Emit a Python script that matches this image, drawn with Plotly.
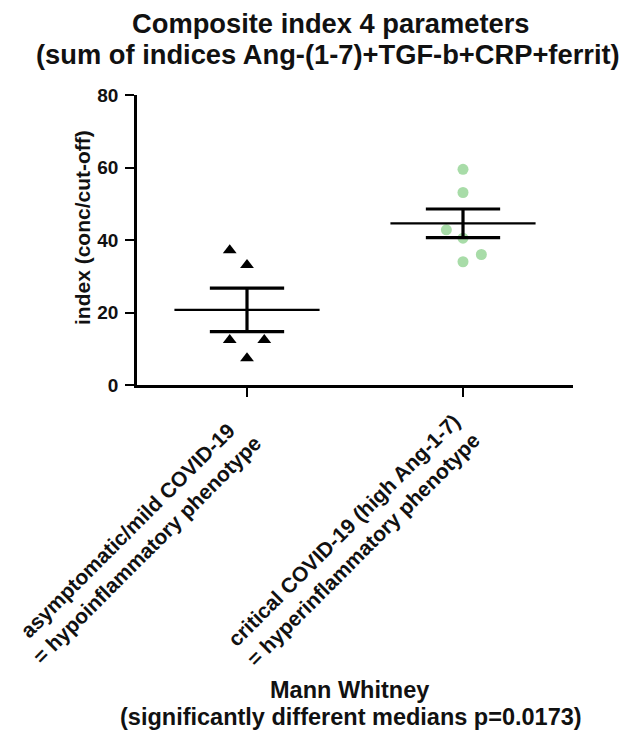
import plotly.graph_objects as go

# ---------------- data ----------------
categories = ["asymptomatic/mild COVID-19<br>= hypoinflammatory phenotype",
              "critical COVID-19 (high Ang-1-7)<br>= hyperinflammatory phenotype"]
group1_values = [37.2, 33.1, 12.4, 12.4, 7.4]
group1_jitter = [-0.08, 0.0, -0.08, 0.08, 0.0]
group2_values = [59.5, 53.1, 42.8, 40.5, 36.0, 34.0]
group2_jitter = [0.0, 0.0, -0.077, 0.0, 0.085, 0.0]
means = [20.7, 44.6]
sems = [6.0, 3.95]
y_ticks = [0, 20, 40, 60, 80]

title_lines = ["Composite index 4 parameters",
               "(sum of indices Ang-(1-7)+TGF-b+CRP+ferrit)"]
footer_lines = ["Mann Whitney",
                "(significantly different medians p=0.0173)"]
y_title = "index (conc/cut-off)"

# ---------------- geometry (page pixels; page body has an 8px margin) ----------------
OFF = 8
W, H = 630 - OFF, 736 - OFF
L, R, T, B = 137 - OFF, 573 - OFF, 95 - OFF, 385 - OFF
def px_x(p):
    return (p - OFF - L) / (R - L)
def px_y(p):
    return (B - (p - OFF)) / (B - T)

FONT = "Liberation Sans, Arial, sans-serif"
INK = "#111111"

fig = go.Figure()

fig.add_trace(go.Scatter(
    x=[0 + j for j in group1_jitter], y=group1_values, mode="markers",
    marker=dict(symbol="triangle-up", size=12, color="black", line=dict(width=0)),
    showlegend=False, hoverinfo="skip"))
fig.add_trace(go.Scatter(
    x=[1 + j for j in group2_jitter], y=group2_values, mode="markers",
    marker=dict(symbol="circle", size=11, color="#a8dca8", line=dict(width=0)),
    showlegend=False, hoverinfo="skip"))

mean_hw = 0.336
cap_hw = 0.172
mx, my, ex, ey = [], [], [], []
for i, (m, s) in enumerate(zip(means, sems)):
    mx += [i - mean_hw, i + mean_hw, None]
    my += [m, m, None]
    ex += [i - cap_hw, i + cap_hw, None, i - cap_hw, i + cap_hw, None, i, i, None]
    ey += [m + s, m + s, None, m - s, m - s, None, m - s, m + s, None]

fig.add_trace(go.Scatter(x=mx, y=my, mode="lines", line=dict(color="black", width=2.2),
                         showlegend=False, hoverinfo="skip"))
fig.add_trace(go.Scatter(x=ex, y=ey, mode="lines", line=dict(color="black", width=3.2),
                         showlegend=False, hoverinfo="skip"))

x_lo = -(247 - 137) / 216
x_hi = 1 + (573 - 463) / 216

fig.update_xaxes(range=[x_lo, x_hi], tickvals=[0, 1], ticktext=["", ""],
                 showline=True, linecolor="black", linewidth=2.5,
                 ticks="outside", ticklen=9, tickwidth=2, tickcolor="black",
                 showgrid=False, zeroline=False, fixedrange=True)
fig.update_yaxes(range=[0, 80], tickvals=y_ticks, ticktext=[str(v) for v in y_ticks],
                 showline=True, linecolor="black", linewidth=2.5,
                 ticks="outside", ticklen=9, tickwidth=2, tickcolor="black",
                 tickfont=dict(family=FONT, size=19, color=INK, weight="bold"),
                 ticklabelstandoff=3,
                 showgrid=False, zeroline=False, fixedrange=True)

ann = []
for txt, xc, yc, fs in [(title_lines[0], 330, 23.5, 27.3), (title_lines[1], 328, 54.5, 27.3),
                        (footer_lines[0], 349, 690, 23.5), (footer_lines[1], 351, 717, 23.5)]:
    ann.append(dict(text=txt, xref="paper", yref="paper", x=px_x(xc),
                    y=px_y(yc), xanchor="center", yanchor="middle", showarrow=False,
                    borderpad=0,
                    font=dict(family=FONT, size=fs, color=INK, weight="bold")))
ann.append(dict(text=y_title, xref="paper", yref="paper", x=px_x(82), y=px_y(228),
                xanchor="center", yanchor="middle", textangle=-90, showarrow=False,
                font=dict(family=FONT, size=21, color=INK, weight="bold")))
for i, c in enumerate(categories):
    ann.append(dict(text=c, xref="x", yref="paper", x=i, xshift=-110, y=px_y(540),
                    xanchor="center", yanchor="middle", textangle=-45, align="center",
                    showarrow=False,
                    font=dict(family=FONT, size=21, color=INK, weight="bold")))

fig.update_layout(width=W, height=H, autosize=False,
                  margin=dict(l=L, r=W - R, t=T, b=H - B, pad=0),
                  plot_bgcolor="white", paper_bgcolor="white",
                  annotations=ann, showlegend=False)

fig.write_html("out.html")
